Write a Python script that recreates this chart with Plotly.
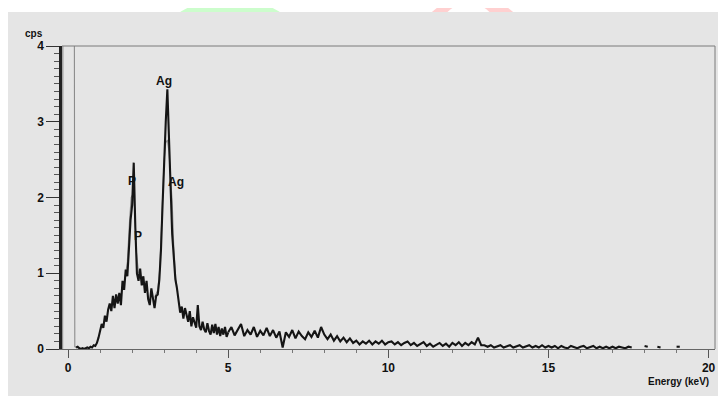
import plotly.graph_objects as go

# ---------------- data ----------------
# low-energy part of the spectrum: starts at 0.25 keV, 0.05 keV channels
low_start_kev = 0.25
low_step_kev = 0.05
counts_low = [
    0.02, 0.03, 0.01, 0.00, 0.01, 0.00, 0.01, 0.02, 0.01, 0.03,
    0.02, 0.05, 0.04, 0.08, 0.15, 0.26, 0.33, 0.28, 0.44, 0.36,
    0.52, 0.60, 0.50, 0.70, 0.54, 0.72, 0.60, 0.74, 0.58, 0.90,
    0.78, 1.05, 0.96, 1.32, 1.70, 1.90, 2.46, 1.60, 1.00, 0.90,
    1.06, 0.84, 0.96, 0.74, 0.90, 0.66, 0.58, 0.80, 0.68, 0.54,
    0.70, 0.72, 0.92, 1.30, 1.90, 2.60, 3.00, 3.43, 2.70, 2.05,
    1.52, 1.22, 0.92, 0.80, 0.62, 0.48, 0.56, 0.40, 0.54, 0.44,
    0.36, 0.50, 0.30, 0.42, 0.34, 0.28, 0.58, 0.30, 0.25, 0.36,
    0.26, 0.22, 0.34, 0.24, 0.19, 0.32, 0.21, 0.33, 0.19, 0.29,
    0.17, 0.27, 0.19, 0.29, 0.16, 0.22,
]

# high-energy part: starts at 5.0 keV, 0.1 keV channels
high_start_kev = 5.0
high_step_kev = 0.1
counts_high = [
    0.22, 0.29, 0.18, 0.26, 0.33, 0.17, 0.25, 0.19, 0.29, 0.16,
    0.24, 0.18, 0.28, 0.17, 0.25, 0.15, 0.23, 0.02, 0.22, 0.16,
    0.25, 0.14, 0.23, 0.17, 0.13, 0.22, 0.16, 0.24, 0.15, 0.29,
    0.19, 0.13, 0.19, 0.11, 0.17, 0.10, 0.15, 0.09, 0.14, 0.08,
    0.11, 0.06, 0.10, 0.07, 0.11, 0.06, 0.10, 0.07, 0.11, 0.06,
    0.09, 0.10, 0.06, 0.09, 0.05, 0.08, 0.10, 0.05, 0.08, 0.04,
    0.07, 0.09, 0.04, 0.07, 0.03, 0.06, 0.08, 0.04, 0.07, 0.03,
    0.08, 0.05, 0.09, 0.04, 0.08, 0.05, 0.09, 0.06, 0.15, 0.05,
    0.05, 0.03, 0.05, 0.02, 0.04, 0.05, 0.02, 0.04, 0.05, 0.02,
    0.04, 0.05, 0.02, 0.04, 0.05, 0.02, 0.04, 0.02, 0.05, 0.02,
    0.04, 0.02, 0.04, 0.01, 0.04, 0.02, 0.01, 0.04, 0.02, 0.01,
    0.03, 0.04, 0.01, 0.03, 0.04, 0.01, 0.03, 0.01, 0.03, 0.01,
    0.03, 0.01, 0.03, 0.02, 0.01, 0.03, 0.02, None, None, None,
    0.04, 0.03, None, None, 0.03, 0.02, None, None, None, None,
    0.03, 0.03,
]

# smoothed outline (grey) around the zero peak and the P / Ag peaks
envelope_kev = [-0.17, -0.16, 0.19, 0.21, 0.25, None,
                1.75, 1.85, 1.92, 1.97, 2.03, 2.08, 2.13, 2.20, None,
                2.70, 2.80, 2.86, 2.91, 2.95, 3.00, 3.05, 3.10, 3.15,
                3.20, 3.25, 3.30, 3.36, 3.42]
envelope_cps = [0.0, 6.0, 6.0, 0.03, 0.02, None,
                0.85, 1.15, 1.70, 2.00, 2.05, 1.85, 1.30, 1.00, None,
                0.68, 0.78, 1.05, 1.60, 2.05, 2.50, 2.72, 2.76, 2.60,
                2.30, 1.95, 1.35, 0.95, 0.75]

# peak labels
peak_labels = ["Ag", "P", "Ag", "P"]
peak_label_kev = [3.0, 2.0, 3.37, 2.19]
peak_label_cps = [3.54, 2.22, 2.21, 1.49]

x_ticks = [0, 5, 10, 15, 20]
y_ticks = [0, 1, 2, 3, 4]

# ---------------- layout geometry ----------------
# the page body has an 8 px margin, so the figure is drawn at (8, 8)
OFF = 8
W, H = 718, 388
L, R, T, B = 54, 11, 38, 47
PW, PH = W - L - R, H - T - B


def px(xp):
    """page pixel x -> paper coordinate"""
    return (xp - OFF - L) / PW


def py(yp):
    """page pixel y -> paper coordinate"""
    return (H - B - (yp - OFF)) / PH


FONT = "Liberation Sans, Arial, sans-serif"
tickfont = dict(family=FONT, size=12, color="#111", weight="bold")

fig = go.Figure()

fig.add_trace(go.Scatter(
    x=envelope_kev, y=envelope_cps, mode="lines",
    line=dict(color="#8c8c8c", width=1.1), connectgaps=False,
    hoverinfo="skip", showlegend=False))

fig.add_trace(go.Scatter(
    x0=low_start_kev, dx=low_step_kev, y=counts_low, mode="lines",
    line=dict(color="#151515", width=2.1), showlegend=False))

fig.add_trace(go.Scatter(
    x0=high_start_kev, dx=high_step_kev, y=counts_high, mode="lines",
    line=dict(color="#151515", width=2.1), connectgaps=False,
    showlegend=False))

annotations = []
for t, xe, yc in zip(peak_labels, peak_label_kev, peak_label_cps):
    annotations.append(dict(x=xe, y=yc, xref="x", yref="y", text=t,
                            showarrow=False, xanchor="center",
                            yanchor="middle",
                            font=dict(family=FONT, size=12, color="#111",
                                      weight="bold")))
annotations.append(dict(x=px(678), y=py(381), xref="paper", yref="paper",
                        text="Energy (keV)", showarrow=False,
                        xanchor="center", yanchor="middle",
                        font=dict(family=FONT, size=10, color="#111",
                                  weight="bold")))
annotations.append(dict(x=px(34), y=py(33), xref="paper", yref="paper",
                        text="cps", showarrow=False,
                        xanchor="center", yanchor="middle",
                        font=dict(family=FONT, size=10, color="#111",
                                  weight="bold")))

shapes = [
    # watermark remnants above the scanned page
    dict(type="circle", xref="paper", yref="paper",
         x0=px(134), x1=px(326), y0=py(-2), y1=py(190),
         fillcolor="#ccfdcc", line=dict(width=0), layer="below"),
    dict(type="circle", xref="paper", yref="paper",
         x0=px(410), x1=px(535), y0=py(-4), y1=py(130),
         fillcolor="#ffd0d0", line=dict(width=0), layer="below"),
    dict(type="circle", xref="paper", yref="paper",
         x0=px(440), x1=px(497), y0=py(3), y1=py(60),
         fillcolor="#ffffff", line=dict(width=0), layer="below"),
    # grey scanned page
    dict(type="rect", xref="paper", yref="paper",
         x0=px(8), x1=px(740), y0=py(12), y1=py(410),
         fillcolor="#e5e5e5", line=dict(width=0), layer="below"),
    # top and right frame lines
    dict(type="line", xref="paper", yref="paper", x0=0, x1=1, y0=1, y1=1,
         line=dict(color="#7a7a7a", width=1)),
    dict(type="line", xref="paper", yref="paper", x0=1, x1=1, y0=0, y1=1,
         line=dict(color="#7a7a7a", width=1)),
]

fig.update_layout(
    width=W, height=H,
    margin=dict(l=L, r=R, t=T, b=B),
    paper_bgcolor="#ffffff",
    plot_bgcolor="rgba(0,0,0,0)",
    showlegend=False,
    annotations=annotations,
    shapes=shapes,
    xaxis=dict(
        range=[-0.19, 20.2], tickvals=x_ticks,
        ticktext=[str(v) for v in x_ticks],
        ticks="outside", ticklen=8, tickwidth=1, tickcolor="#555",
        showline=True, linecolor="#666", linewidth=1,
        showgrid=False, zeroline=False, tickfont=tickfont,
        minor=dict(dtick=1, ticks="outside", ticklen=3, tickcolor="#777",
                   showgrid=False),
    ),
    yaxis=dict(
        range=[0, 4], tickvals=y_ticks, ticktext=[str(v) for v in y_ticks],
        ticks="outside", ticklen=13, tickwidth=1, tickcolor="#333",
        showline=True, linecolor="#222", linewidth=2.5,
        showgrid=False, zeroline=False, tickfont=tickfont,
        minor=dict(dtick=0.1, ticks="outside", ticklen=5, tickcolor="#555",
                   showgrid=False),
    ),
)

fig.write_html("out.html")
